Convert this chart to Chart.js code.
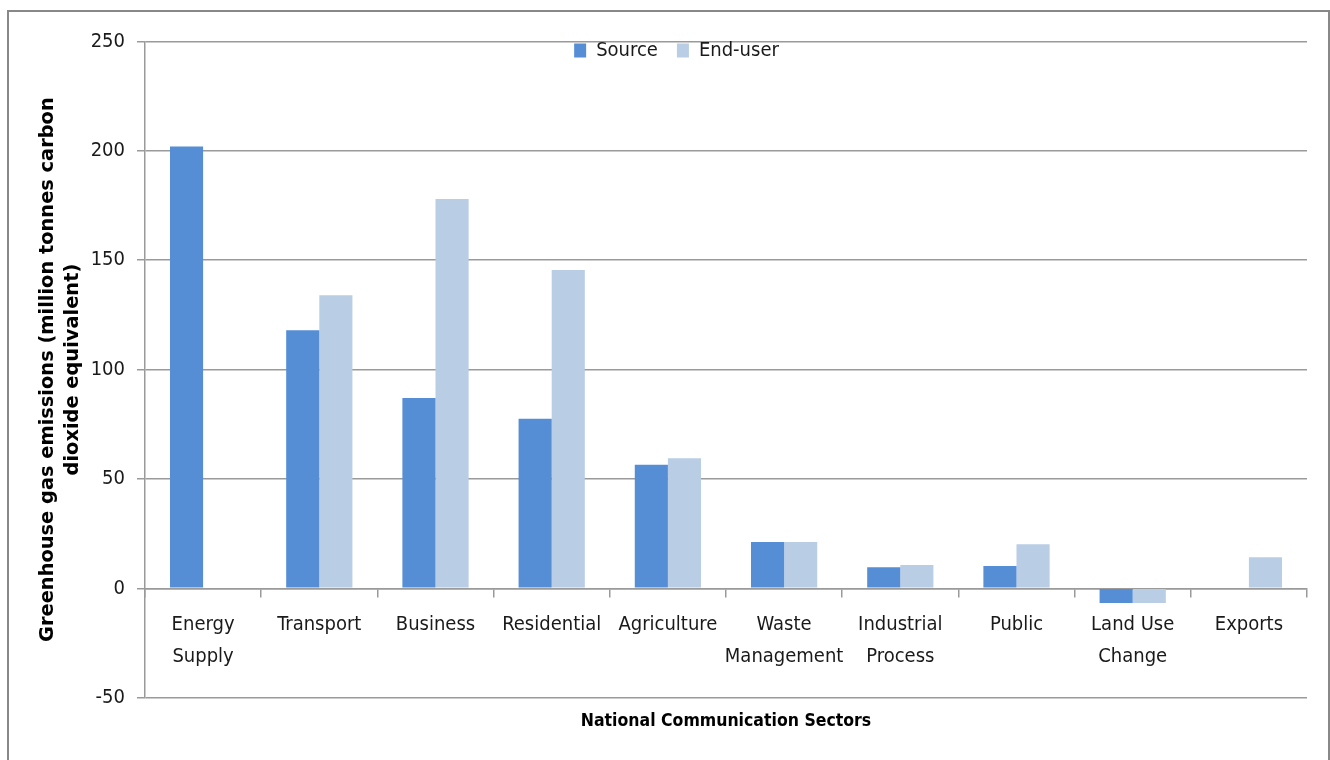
<!DOCTYPE html>
<html>
<head>
<meta charset="utf-8">
<title>Greenhouse gas emissions by sector</title>
<script src="https://cdn.jsdelivr.net/npm/chart.js@4"></script>
<style>
  html, body { margin: 0; padding: 0; background: #fff; overflow: hidden; }
  canvas { position: absolute; left: 0; top: 0; }
  #frame {
    position: absolute; left: 7px; top: 10px; width: 1323px; height: 800px;
    box-sizing: border-box; border: 2px solid #888; pointer-events: none;
  }
</style>
</head>
<body>
<canvas id="chart" width="1330" height="760"></canvas>
<div id="frame"></div>
<script>
// =====================
// DATA
// =====================
const SECTORS = [
  ["Energy", "Supply"], "Transport", "Business", "Residential", "Agriculture",
  ["Waste", "Management"], ["Industrial", "Process"], "Public", ["Land Use", "Change"], "Exports"
];
const SOURCE = [202, 118, 87, 77.5, 56.5, 21.2, 9.6, 10.2, -6.7, null];
const END_USER = [null, 134, 178, 145.5, 59.5, 21.2, 10.7, 20.1, -6.7, 14.2];
const Y_TICKS = [-50, 0, 50, 100, 150, 200, 250];

const Y_TITLE = ["Greenhouse gas emissions (million tonnes carbon", "dioxide equivalent)"];
const X_TITLE = "National Communication Sectors";

// =====================
// STYLE
// =====================
const LABEL_FONT = "'DejaVu Sans Condensed', 'Liberation Sans', sans-serif";
const TITLE_FONT = "'DejaVu Sans', 'Liberation Sans', sans-serif";
const GRID = "#9a9a9a";
const TEXT = "#1a1a1a";

// legend sits inside the plot, just under the top gridline
const LEGEND_SHIFT_X = 13;
const LEGEND_SHIFT_Y = -20;

const legendInside = {
  id: "legendInside",
  afterLayout(chart) {
    const legend = chart.legend;
    const dy = chart.chartArea.top + LEGEND_SHIFT_Y - legend.top;
    legend.top += dy;
    legend.bottom += dy;
    legend.left += LEGEND_SHIFT_X;
    legend.right += LEGEND_SHIFT_X;
  }
};

// =====================
// CHART
// =====================
function drawChart() {
  const ctx = document.getElementById("chart");

  new Chart(ctx, {
    type: "bar",
    data: {
      labels: SECTORS,
      datasets: [
        {
          label: "Source",
          data: SOURCE,
          backgroundColor: "#558ed5",
          xAxisID: "x"
        },
        {
          label: "End-user",
          data: END_USER,
          backgroundColor: "#b9cde5",
          xAxisID: "x"
        }
      ]
    },
    plugins: [legendInside],
    options: {
      responsive: false,
      animation: false,
      categoryPercentage: 0.57,
      barPercentage: 1.0,
      layout: { padding: { left: 20, right: 23, top: -7.5, bottom: 0 } },
      plugins: {
        tooltip: { enabled: false },
        legend: {
          position: "top",
          align: "center",
          labels: {
            boxWidth: 12,
            boxHeight: 14,
            padding: 19,
            color: TEXT,
            font: { family: LABEL_FONT, size: 20 }
          }
        }
      },
      scales: {
        x: {
          type: "category",
          position: { y: 0 },
          offset: true,
          afterFit: (scale) => { scale.height = 0; },
          grid: {
            offset: true,
            drawOnChartArea: false,
            drawTicks: true,
            tickLength: 8,
            color: GRID,
            lineWidth: 1.5
          },
          border: { display: true, color: GRID, width: 1.5 },
          ticks: {
            autoSkip: false,
            maxRotation: 0,
            minRotation: 0,
            padding: 12,
            color: TEXT,
            font: { family: LABEL_FONT, size: 20, lineHeight: 1.62 }
          }
        },
        x2: {
          type: "category",
          position: "bottom",
          afterFit: (scale) => { scale.height = 62.3; },
          grid: { display: false },
          border: { display: false },
          ticks: { display: false },
          title: {
            display: true,
            text: X_TITLE,
            color: "#000",
            padding: { top: 0, bottom: 28 },
            font: { family: LABEL_FONT, size: 17.5, weight: "bold", lineHeight: 1.2 }
          }
        },
        y: {
          min: Y_TICKS[0],
          max: Y_TICKS[Y_TICKS.length - 1],
          afterFit: (scale) => { scale.width = 125; },
          afterBuildTicks: (scale) => {
            scale.ticks = Y_TICKS.map((v) => ({ value: v }));
          },
          grid: {
            color: GRID,
            lineWidth: 1.5,
            drawTicks: true,
            tickLength: 8
          },
          border: { display: true, color: GRID, width: 1.5 },
          ticks: {
            padding: 12,
            color: TEXT,
            font: { family: LABEL_FONT, size: 20 }
          },
          title: {
            display: true,
            text: Y_TITLE,
            color: "#000",
            padding: { top: 15.5, bottom: 0 },
            font: { family: TITLE_FONT, size: 19.4, weight: "bold", lineHeight: 1.29 }
          }
        }
      }
    }
  });
}

// =====================
// INIT
// =====================
drawChart();
</script>
</body>
</html>
